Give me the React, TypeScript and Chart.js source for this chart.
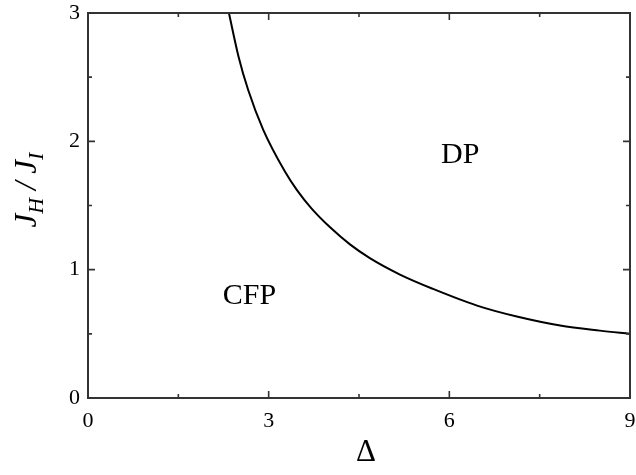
import { useEffect, useRef } from "react";
import { Chart, registerables } from "chart.js";

Chart.register(...registerables);

// Phase boundary J_H/J_I as a function of Δ
const deltaValues = [2.34, 2.5, 2.66, 2.91, 3.27, 3.47, 3.71, 4.02, 4.35, 4.68, 5.18, 5.73, 6.46, 7.12, 7.84, 8.5, 9.0];
const ratioValues = [3.0, 2.66, 2.4, 2.09, 1.765, 1.62, 1.478, 1.33, 1.197, 1.09, 0.962, 0.85, 0.72, 0.635, 0.565, 0.525, 0.5];

// Axis ticks
const xMajorTicks = [0, 3, 6, 9];
const yMajorTicks = [0, 1, 2, 3];
const xMinorTicks = [1.5, 4.5, 7.5];
const yMinorTicks = [0.5, 1.5, 2.5];

// Phase region labels
const phaseNames = ["CFP", "DP"];
const phaseDelta = [2.68, 6.18];
const phaseRatio = [0.79, 1.89];

const SERIF = '"Liberation Serif", "Times New Roman", Times, serif';
const FRAME_COLOR = "#333333";

const framePlugin = {
  id: "phaseFrame",
  afterDraw(chart: any) {
    const { ctx, chartArea } = chart;
    const xs = chart.scales.x;
    const ys = chart.scales.y;
    const { left, right, top, bottom } = chartArea;
    ctx.save();

    // frame
    ctx.strokeStyle = FRAME_COLOR;
    ctx.lineWidth = 2;
    ctx.strokeRect(left, top, right - left, bottom - top);

    // inward ticks on all four sides
    const tickX = (vals: number[], len: number) => {
      for (const v of vals) {
        const px = xs.getPixelForValue(v);
        ctx.beginPath();
        ctx.moveTo(px, bottom);
        ctx.lineTo(px, bottom - len);
        ctx.moveTo(px, top);
        ctx.lineTo(px, top + len);
        ctx.stroke();
      }
    };
    const tickY = (vals: number[], len: number) => {
      for (const v of vals) {
        const py = ys.getPixelForValue(v);
        ctx.beginPath();
        ctx.moveTo(left, py);
        ctx.lineTo(left + len, py);
        ctx.moveTo(right, py);
        ctx.lineTo(right - len, py);
        ctx.stroke();
      }
    };
    ctx.lineWidth = 1.6;
    tickX(xMajorTicks, 7);
    tickX(xMinorTicks, 4);
    tickY(yMajorTicks, 7);
    tickY(yMinorTicks, 4);

    // phase labels
    ctx.fillStyle = "#000";
    ctx.font = `30px ${SERIF}`;
    ctx.textAlign = "center";
    ctx.textBaseline = "middle";
    phaseNames.forEach((name, i) => {
      ctx.fillText(name, xs.getPixelForValue(phaseDelta[i]), ys.getPixelForValue(phaseRatio[i]));
    });

    // x-axis title
    ctx.font = `31px ${SERIF}`;
    ctx.fillText("Δ", 366, 453);

    // y-axis title: J_H / J_I, rotated
    const main = `italic 31px ${SERIF}`;
    const sub = `italic 22px ${SERIF}`;
    const parts: [string, string, number][] = [
      ["J", main, 0],
      ["H", sub, 7],
      [" / ", main, 0],
      ["J", main, 0],
      ["I", sub, 7],
    ];
    let total = 0;
    for (const [t, f] of parts) {
      ctx.font = f;
      total += ctx.measureText(t).width;
    }
    ctx.translate(26, 190);
    ctx.rotate(-Math.PI / 2);
    ctx.textAlign = "left";
    ctx.textBaseline = "alphabetic";
    let x = -total / 2;
    for (const [t, f, dy] of parts) {
      ctx.font = f;
      ctx.fillText(t, x, 10 + dy);
      x += ctx.measureText(t).width;
    }
    ctx.restore();
  },
};

export default function App() {
  const canvasRef = useRef<HTMLCanvasElement | null>(null);

  useEffect(() => {
    const canvas = canvasRef.current;
    if (!canvas) return;
    const points = deltaValues.map((d, i) => ({ x: d, y: ratioValues[i] }));
    const chart = new Chart(canvas, {
      type: "line",
      data: {
        datasets: [
          {
            data: points,
            borderColor: "#000",
            borderWidth: 2,
            pointRadius: 0,
            cubicInterpolationMode: "monotone",
            fill: false,
          },
        ],
      },
      options: {
        animation: false,
        responsive: false,
        devicePixelRatio: 1,
        layout: { padding: { top: 13, right: 6, left: 0, bottom: 0 } },
        plugins: { legend: { display: false }, tooltip: { enabled: false } },
        scales: {
          x: {
            type: "linear",
            min: 0,
            max: 9,
            grid: { display: false, drawTicks: false },
            border: { display: false },
            afterFit: (s: any) => {
              s.height = 77;
              s.paddingLeft = 0;
              s.paddingRight = 0;
            },
            afterBuildTicks: (s: any) => {
              s.ticks = xMajorTicks.map((v) => ({ value: v }));
            },
            ticks: {
              color: "#000",
              font: { family: SERIF, size: 22 },
              padding: 10,
              maxRotation: 0,
            },
          },
          y: {
            type: "linear",
            min: 0,
            max: 3,
            grid: { display: false, drawTicks: false },
            border: { display: false },
            afterFit: (s: any) => {
              s.width = 88;
              s.paddingTop = 0;
              s.paddingBottom = 0;
            },
            afterBuildTicks: (s: any) => {
              s.ticks = yMajorTicks.map((v) => ({ value: v }));
            },
            ticks: {
              color: "#000",
              font: { family: SERIF, size: 22 },
              padding: 8,
            },
          },
        },
      },
      plugins: [framePlugin],
    });
    return () => chart.destroy();
  }, []);

  return (
    <div style={{ position: "fixed", left: 0, top: 0, width: 636, height: 475, background: "#fff" }}>
      <canvas ref={canvasRef} width={636} height={475} />
    </div>
  );
}
